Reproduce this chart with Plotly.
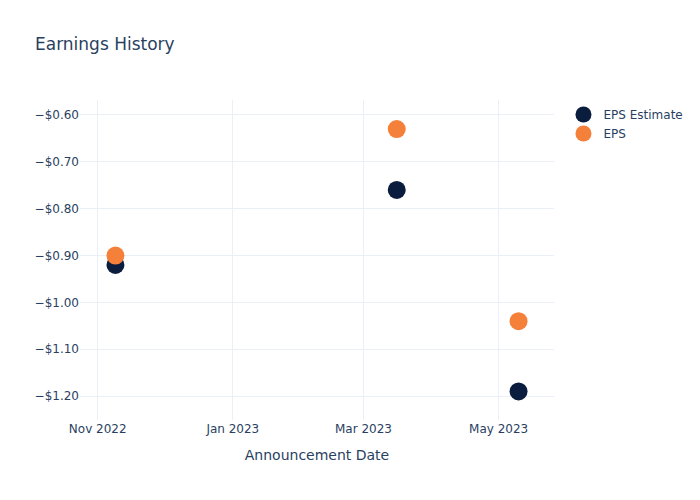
import plotly.graph_objects as go

dates = ["2022-11-09", "2023-03-16", "2023-05-10"]
eps_estimate = [-0.92, -0.76, -1.19]
eps_actual = [-0.90, -0.63, -1.04]

fig = go.Figure()
fig.add_trace(go.Scatter(x=dates, y=eps_estimate, mode="markers", name="EPS Estimate",
                         marker=dict(color="#0b1d3f", size=18)))
fig.add_trace(go.Scatter(x=dates, y=eps_actual, mode="markers", name="EPS",
                         marker=dict(color="#f5803a", size=18)))
fig.update_layout(
    template="plotly_white",
    width=700, height=500,
    font=dict(family="DejaVu Sans"),
    title=dict(text="Earnings History"),
    xaxis=dict(title=dict(text="Announcement Date"), range=["2022-10-24", "2023-05-26"],
               dtick="M2", tickformat="%b %Y"),
    yaxis=dict(tickformat="$.2f", range=[-1.251, -0.568], dtick=0.1),
)
fig.write_html("out.html")
